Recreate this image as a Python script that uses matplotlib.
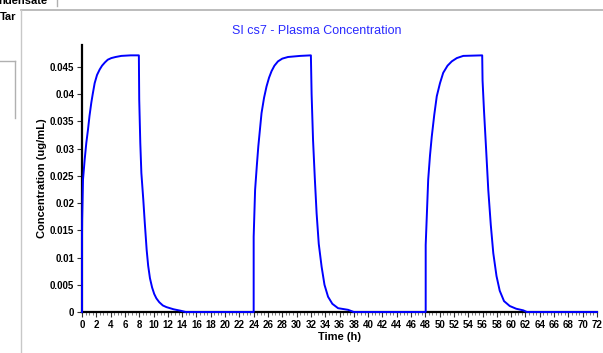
import matplotlib
matplotlib.use("Agg")
import matplotlib.pyplot as plt
from matplotlib.lines import Line2D
from matplotlib.ticker import MultipleLocator, FuncFormatter

plt.rcParams["font.family"] = ["Liberation Sans", "DejaVu Sans"]

# values, one list per dosing cycle
t_cycle1 = [0, 0, 0.02, 0.14, 0.37, 0.6, 0.84, 1.05, 1.3, 1.5, 1.77, 2.1, 2.47, 2.8,
            3.2, 3.6, 4.1, 4.7, 5.5, 6.8, 7.95,
            8.0, 8.15, 8.3, 8.57, 8.77, 9.04, 9.25, 9.5, 9.8, 10.1, 10.4, 10.8, 11.3,
            11.8, 12.8, 13.9, 14.5]
c_cycle1 = [0, 0.0138, 0.017, 0.0243, 0.0279, 0.031, 0.0335, 0.036, 0.0384, 0.040,
            0.042, 0.0435, 0.0445, 0.0452, 0.0458, 0.0463, 0.0466, 0.0468, 0.047,
            0.0471, 0.0471,
            0.039, 0.031, 0.0255, 0.0206, 0.0165, 0.0114, 0.0085, 0.0062, 0.0045,
            0.0033, 0.0025, 0.0018, 0.0012, 0.0009, 0.0005, 0.0002, 0.0]

t_cycle2 = [14.5, 24.0, 24.0, 24.2, 24.45, 24.65, 24.9, 25.1, 25.45, 25.8, 26.15, 26.5,
            26.9, 27.4, 28.0, 28.8, 30.5, 32.0,
            32.1, 32.3, 32.55, 32.8, 33.1, 33.5, 33.9, 34.4, 35.0, 35.8, 37.2, 38.0]
c_cycle2 = [0, 0, 0.0138, 0.0224, 0.027, 0.0304, 0.0338, 0.0365, 0.0393, 0.0414,
            0.043, 0.0442, 0.0452, 0.046, 0.0465, 0.0468, 0.047, 0.0471,
            0.040, 0.0316, 0.0245, 0.0181, 0.0125, 0.0083, 0.005, 0.0028, 0.0015,
            0.0007, 0.0004, 0]

t_cycle3 = [38.0, 48.05, 48.05, 48.4, 48.65, 48.9, 49.25, 49.6, 50.05, 50.5, 51.1,
            51.7, 52.4, 53.3, 55.95,
            56.0, 56.2, 56.5, 56.8, 57.15, 57.5, 57.95, 58.4, 59.0, 59.8, 60.7, 61.7, 62.2, 72.0]
c_cycle3 = [0, 0, 0.0123, 0.0243, 0.0287, 0.0322, 0.0362, 0.0396, 0.042, 0.0439,
            0.0452, 0.046, 0.0466, 0.047, 0.0471,
            0.0425, 0.037, 0.0298, 0.0224, 0.016, 0.0108, 0.0066, 0.0039, 0.002,
            0.0011, 0.0006, 0.0003, 0, 0]

y_ticks = [0, 0.005, 0.01, 0.015, 0.02, 0.025, 0.03, 0.035, 0.04, 0.045]
x_ticks = list(range(0, 73, 2))

fig = plt.figure(figsize=(6.03, 3.53), dpi=100)
ax = fig.add_axes([82 / 603, 1 - 312 / 353, 515 / 603, 267 / 353])

for t, c in [(t_cycle1, c_cycle1), (t_cycle2, c_cycle2), (t_cycle3, c_cycle3)]:
    ax.plot(t, c, color="#0000ff", lw=1.4, clip_on=False, zorder=5)

ax.set_xlim(0, 72)
ax.set_ylim(0, 0.049)
ax.set_xticks(x_ticks)
ax.xaxis.set_minor_locator(MultipleLocator(0.5))
ax.set_yticks(y_ticks)
ax.yaxis.set_major_formatter(FuncFormatter(lambda v, p: "0" if v == 0 else ("%g" % v)))

for s in ["top", "right"]:
    ax.spines[s].set_visible(False)
for s in ["left", "bottom"]:
    ax.spines[s].set_linewidth(1.6)
    ax.spines[s].set_color("black")

ax.tick_params(axis="both", which="major", length=3.5, width=0.8, colors="#333333",
               labelsize=7, labelcolor="black", pad=2)
ax.tick_params(axis="x", which="minor", length=2, width=0.6, colors="#666666")
for lab in ax.get_xticklabels() + ax.get_yticklabels():
    lab.set_fontweight("bold")

ax.set_xlabel("Time (h)", fontsize=8, fontweight="bold", labelpad=2)
ax.set_ylabel("Concentration (ug/mL)", fontsize=8, fontweight="bold", labelpad=2)

fig.text(317 / 603, 1 - 31 / 353, "SI cs7 - Plasma Concentration", color="#2a2aff",
         fontsize=9, ha="center", va="center")

# surrounding window bits from the screenshot
fig.add_artist(Line2D([21 / 603, 1], [1 - 10 / 353, 1 - 10 / 353], color="#b0b0b0", lw=1.2))
fig.add_artist(Line2D([21 / 603, 21 / 603], [0, 1 - 10 / 353], color="#c8c8c8", lw=1.0))
fig.add_artist(Line2D([0, 15 / 603], [1 - 61 / 353, 1 - 61 / 353], color="#b0b0b0", lw=1.0))
fig.add_artist(Line2D([15 / 603, 15 / 603], [1 - 61 / 353, 1 - 118 / 353], color="#b0b0b0", lw=1.0))
fig.add_artist(Line2D([57 / 603, 57 / 603], [1, 1 - 6 / 353], color="#b0b0b0", lw=1.0))
fig.text(0 / 603, 1 - 17 / 353, "Tar", fontsize=8, fontweight="bold", va="center", ha="left")
fig.text(-2 / 603, 1 - 1 / 353, "ndensate", fontsize=8, fontweight="bold", va="center", ha="left")

fig.savefig("out.png", dpi=100)
